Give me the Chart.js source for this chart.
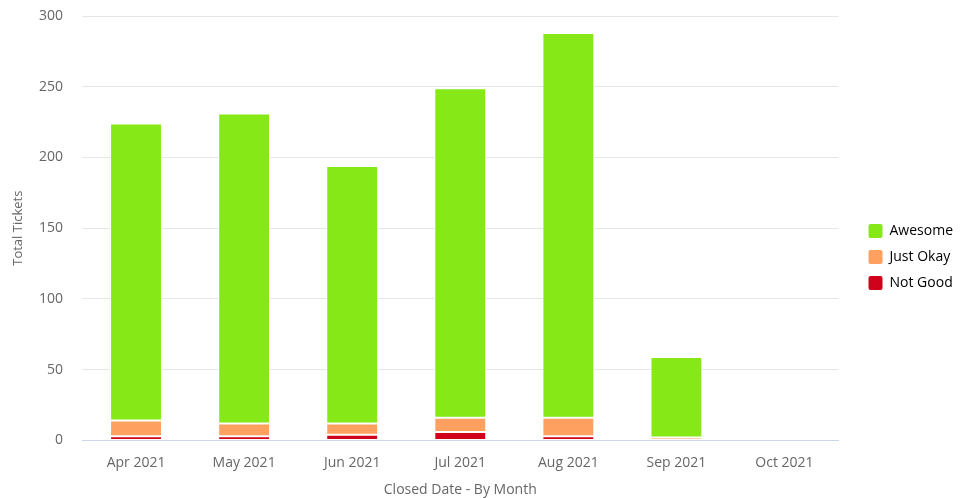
<!DOCTYPE html>
<html>
<head>
<meta charset="utf-8">
<script src="https://cdn.jsdelivr.net/npm/chart.js@4"></script>
<style>
  html, body { margin: 0; padding: 0; background: #fff; }
  #wrap { width: 961px; height: 498px; }
</style>
</head>
<body>
<div id="wrap"><canvas id="myChart" width="961" height="498"></canvas></div>
<script>
const months = ['Apr 2021', 'May 2021', 'Jun 2021', 'Jul 2021', 'Aug 2021', 'Sep 2021', 'Oct 2021'];
const awesome = [210, 219, 182, 233, 272, 57, 0];
const justOkay = [11, 9, 8, 10, 13, 2, 0];
const notGood = [3, 3, 4, 6, 3, 0, 0];

const ctx = document.getElementById('myChart').getContext('2d');
const font = "'Open Sans', 'Noto Sans', sans-serif";

// legend sits a bit further right than chart.js puts it
const shiftLegend = {
  id: 'shiftLegend',
  afterLayout(chart) {
    chart.legend.left += 18;
    chart.legend.right += 18;
  }
};

const myChart = new Chart(ctx, {
  type: 'bar',
  data: {
    labels: months,
    // bottom of the stack first
    datasets: [
      { label: 'Not Good', data: notGood, backgroundColor: '#d0021b' },
      { label: 'Just Okay', data: justOkay, backgroundColor: '#fda060' },
      { label: 'Awesome', data: awesome, backgroundColor: '#87e817' }
    ].map(d => Object.assign(d, { borderColor: '#ffffff', borderWidth: 1, borderSkipped: false,
      categoryPercentage: 1, barPercentage: 0.48 }))
  },
  options: {
    responsive: false,
    animation: false,
    layout: { padding: { top: 16, right: 16, left: 0, bottom: 0 } },
    plugins: {
      legend: {
        position: 'right',
        labels: {
          boxWidth: 14, boxHeight: 14, padding: 12, color: '#555',
          font: { family: font, size: 14 },
          generateLabels: chart => chart.data.datasets.map((d, i) => ({
            text: d.label, fillStyle: d.backgroundColor, strokeStyle: d.backgroundColor,
            lineWidth: 0, datasetIndex: i, borderRadius: 2
          })).reverse()
        }
      },
      tooltip: { enabled: false }
    },
    scales: {
      x: {
        stacked: true,
        grid: { display: false },
        border: { color: '#ccd6eb' },
        ticks: { color: '#666', font: { family: font, size: 14 }, padding: 6 },
        title: { display: true, text: 'Closed Date - By Month', color: '#666', font: { family: font, size: 14 }, padding: { top: 4, bottom: 0 } }
      },
      y: {
        stacked: true,
        min: 0, max: 300,
        ticks: { stepSize: 50, color: '#666', font: { family: font, size: 14 }, padding: 19 },
        grid: { color: '#e6e6e6', drawTicks: false },
        border: { display: false },
        title: { display: true, text: 'Total Tickets', color: '#666', font: { family: font, size: 13 }, padding: { top: 10, bottom: 0 } },
        afterFit: axis => {
          axis.width = 82;
          axis.paddingTop = 0;
          axis.paddingBottom = 0;
        }
      }
    }
  },
  plugins: [shiftLegend]
});
</script>
</body>
</html>
